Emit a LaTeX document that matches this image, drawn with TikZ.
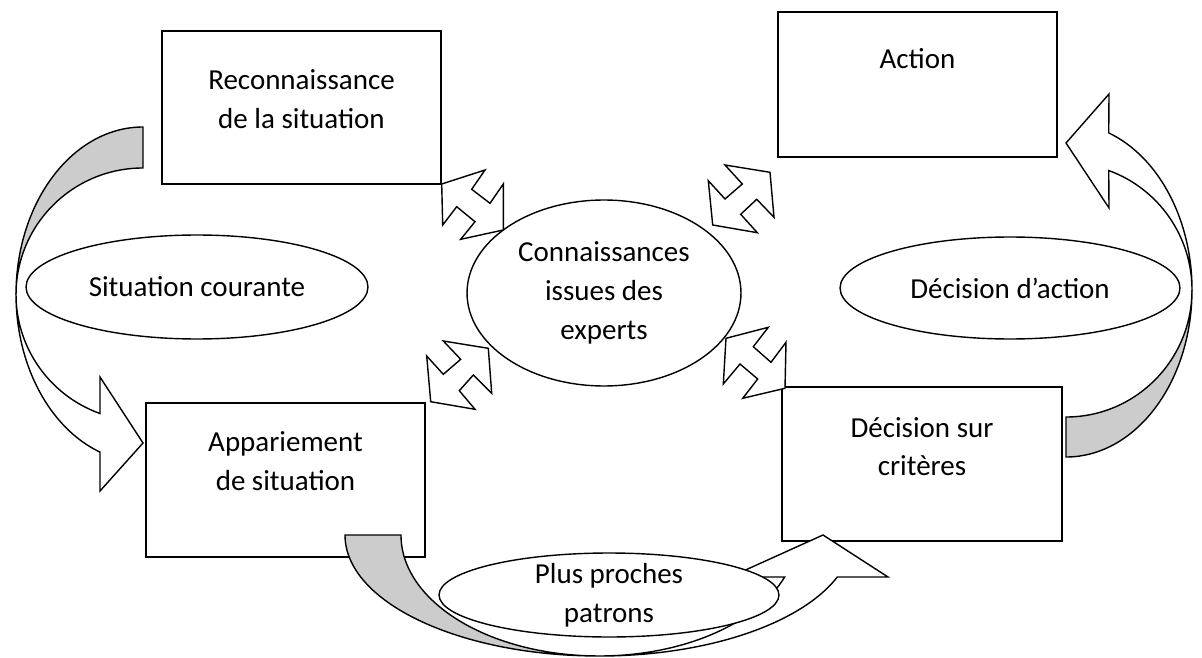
\documentclass[tikz,border=0pt]{standalone}
\usepackage{fontspec}
\setmainfont{Carlito}
\usepackage{tikz}
\usetikzlibrary{positioning,shapes.geometric}

\begin{document}
\begin{tikzpicture}[x=0.02cm,y=-0.02cm,
    font=\fontsize{16.5}{22}\selectfont,
    box/.style={draw,line width=0.9pt,fill=white,align=center,inner sep=0pt},
    bulle/.style={ellipse,draw,line width=0.8pt,fill=white,align=center,inner sep=0pt},
    fleche/.style={draw,line width=0.8pt,fill=white,line join=miter},
    dos/.style={draw,line width=0.8pt,fill=black!20}]
  \useasboundingbox (0,0) rectangle (1202,658);

  % les etapes
  \node[box,minimum width=5.58cm,minimum height=3.06cm,text depth=0.35cm](recon) at (301.5,107.5){Reconnaissance\\de la situation};
  \node[box,minimum width=5.58cm,minimum height=2.9cm,text depth=1.05cm](action) at (917.5,84.5){Action};
  \node[box,minimum width=5.58cm,minimum height=3.08cm,text depth=0.75cm](appar) at (285.5,480){Appariement\\de situation};
  \node[box,minimum width=5.6cm,minimum height=3.08cm,text depth=0.7cm](decis) at (922,464){Décision sur\\critères};

  % fleches courbes
  \draw[dos] (143,127) arc[start angle=90,end angle=180,x radius=2.54cm,y radius=3.35cm]
    arc[start angle=180,end angle=90,x radius=2.54cm,y radius=2.53cm] -- cycle;
  \draw[fleche] (16,294.5) arc[start angle=180,end angle=250.2,x radius=2.54cm,y radius=2.53cm]
    -- (100,377) -- (143,443) -- (100,491) -- (100,452.1)
    arc[start angle=250.2,end angle=180,x radius=2.54cm,y radius=3.35cm] -- cycle;

  \draw[dos] (1066,457) arc[start angle=270,end angle=360,x radius=2.52cm,y radius=3.34cm]
    arc[start angle=0,end angle=-90,x radius=2.52cm,y radius=2.54cm] -- cycle;
  \draw[fleche] (1192,290) arc[start angle=0,end angle=70.2,x radius=2.52cm,y radius=2.54cm]
    -- (1109,208) -- (1066,143) -- (1109,94) -- (1108.7,132.9)
    arc[start angle=70.2,end angle=0,x radius=2.52cm,y radius=3.34cm] -- cycle;

  \draw[dos] (345,535) arc[start angle=180,end angle=270,x radius=5.08cm,y radius=2.42cm]
    arc[start angle=270,end angle=180,x radius=3.96cm,y radius=2.42cm] -- cycle;
  \draw[fleche] (599,656) arc[start angle=270,end angle=339.7,x radius=3.96cm,y radius=2.42cm]
    -- (730,577) -- (823,535) -- (888,577) -- (837.3,577)
    arc[start angle=339.7,end angle=270,x radius=5.08cm,y radius=2.42cm] -- cycle;

  % les bulles
  \node[bulle,minimum width=6.84cm,minimum height=2.08cm](courante) at (197,287){Situation courante};
  \node[bulle,minimum width=6.8cm,minimum height=2.04cm](decaction) at (1010,288){Décision d’action};
  \node[bulle,minimum width=5.48cm,minimum height=3.72cm](experts) at (604,293){Connaissances\\issues des\\experts};
  \node[bulle,minimum width=6.8cm,minimum height=1.68cm,inner ysep=-8pt](patrons) at (609,595){Plus proches\\patrons};

  % doubles fleches
  \draw[fleche] (441.7,184) -- (485,170) -- (471.7,189.3) -- (490,203.3) -- (503.3,184) -- (503.3,230)
    -- (460.7,239.3) -- (475,221.7) -- (456.7,206.7) -- (442.7,225) -- cycle;
  \draw[fleche] (725,165) -- (770,172.3) -- (774,217.3) -- (756.7,199.3) -- (740.7,214.3) -- (757.3,232.7)
    -- (712.7,225) -- (708.3,180.7) -- (725,199) -- (742.3,184) -- cycle;
  \draw[fleche] (443.3,341) -- (488.3,348.3) -- (491.7,393.3) -- (473.3,375) -- (459.3,390.7) -- (475,409.3)
    -- (430.7,401.7) -- (426.7,356) -- (443.3,374.3) -- (460.7,359.3) -- cycle;
  \draw[fleche] (726,338.3) -- (768.3,327.3) -- (753.3,346.7) -- (771,362.3) -- (786,342.3) -- (785,388.3)
    -- (742.7,398.3) -- (757.7,379) -- (740,364) -- (723.3,384) -- cycle;
\end{tikzpicture}
\end{document}
